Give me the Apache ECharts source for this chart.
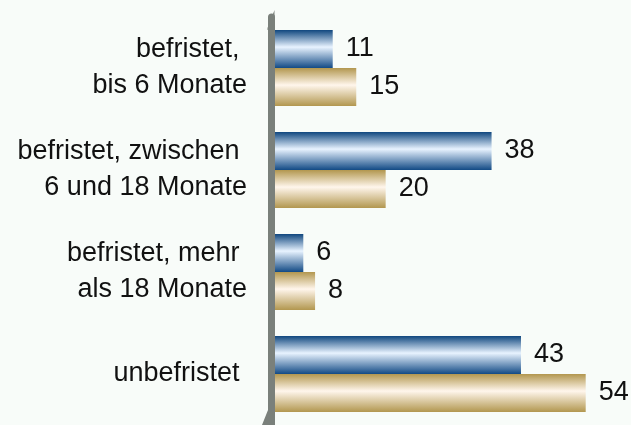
<!DOCTYPE html>
<html>
<head>
<meta charset="utf-8">
<script src="https://cdn.jsdelivr.net/npm/echarts@6/dist/echarts.min.js"></script>
<style>
  html, body { margin: 0; padding: 0; background: #f8fcf9; }
  #chart { width: 631px; height: 425px; }
</style>
</head>
<body>
<div id="chart"></div>
<script>
// Vertragsart, von oben nach unten
const categories = [
  'befristet, \nbis 6 Monate',
  'befristet, zwischen \n6 und 18 Monate',
  'befristet, mehr \nals 18 Monate',
  'unbefristet '
]
const blueValues = [11, 38, 6, 43]
const tanValues = [15, 20, 8, 54]

const chart = echarts.init(document.getElementById('chart'))

function tube(edgeTop, mid, edgeBottom) {
  return new echarts.graphic.LinearGradient(0, 0, 0, 1, [
    { offset: 0, color: edgeTop },
    { offset: 0.45, color: mid },
    { offset: 1, color: edgeBottom }
  ])
}

const valueLabel = {
  show: true,
  position: 'right',
  distance: 13,
  color: '#111',
  fontSize: 27,
  fontFamily: 'Liberation Sans, Arial, sans-serif'
}

chart.setOption({
  backgroundColor: '#f8fcf9',
  animation: false,
  grid: {
    left: 268,
    right: 10,
    top: 17,
    bottom: 0
  },
  xAxis: {
    type: 'value',
    min: 0,
    max: 60,
    show: false
  },
  yAxis: {
    type: 'category',
    data: categories,
    inverse: true,
    offset: -3,
    z: 5,
    axisLine: {
      lineStyle: { color: '#7a807b', width: 7 }
    },
    axisTick: { show: false },
    splitLine: { show: false },
    axisLabel: {
      margin: 24,
      color: '#111',
      fontSize: 27,
      lineHeight: 36,
      align: 'right',
      fontFamily: 'Liberation Sans, Arial, sans-serif'
    }
  },
  graphic: [
    // schraeger Abschluss der Achsenwand oben und unten
    {
      type: 'polygon',
      z: 10,
      shape: { points: [[267.5, 28], [274.5, 10], [274.5, 30], [267.5, 30]] },
      style: { fill: '#7a807b' }
    },
    {
      type: 'polygon',
      z: 10,
      shape: { points: [[268, 410], [268, 425], [262, 425]] },
      style: { fill: '#7a807b' }
    }
  ],
  series: [
    {
      type: 'bar',
      data: blueValues,
      barWidth: 38,
      barGap: '0%',
      itemStyle: { color: tube('#10477f', '#e8f3ff', '#124a85') },
      label: valueLabel
    },
    {
      type: 'bar',
      data: tanValues,
      barWidth: 38,
      itemStyle: { color: tube('#b2974f', '#fff6ec', '#b2974f') },
      label: valueLabel
    }
  ]
})
</script>
</body>
</html>
